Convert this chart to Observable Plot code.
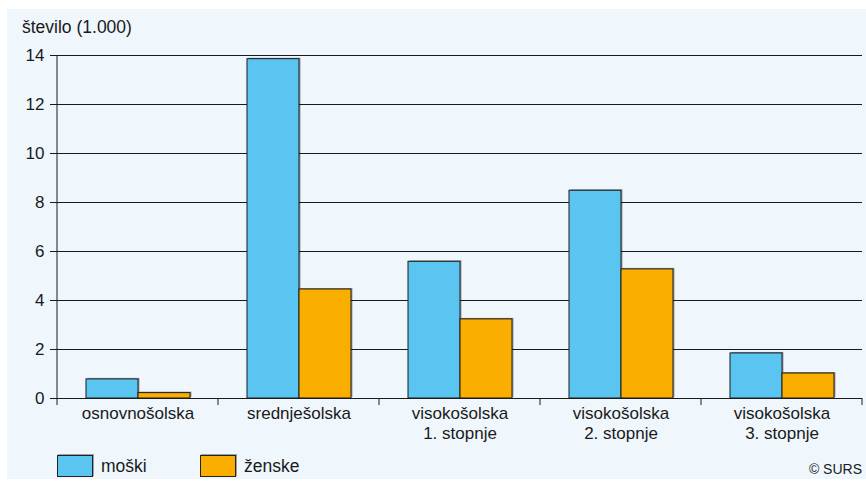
<!DOCTYPE html>
<html>
<head>
<meta charset="utf-8">
<script src="https://cdn.jsdelivr.net/npm/d3@7"></script>
<script src="https://cdn.jsdelivr.net/npm/@observablehq/plot@0.6"></script>
<style>
  html, body { margin: 0; padding: 0; background: #ffffff; }
  body { width: 866px; height: 486px; position: relative; overflow: hidden;
         font-family: "Liberation Sans", Arial, sans-serif; color: #1a1a1a; }
  #bg { position: absolute; left: 7px; top: 9px; right: 0; bottom: 7px; background: #EFF7FD; }
  #chart { position: absolute; left: 0; top: 0; }
  #title { position: absolute; left: 22px; top: 17px; font-size: 17.5px; }
  #legend { position: absolute; left: 57px; top: 455px; display: flex; align-items: center; font-size: 17.5px; }
  .item { display: flex; align-items: center; margin-right: 0; }
  .sw { width: 34px; height: 20px; border: 1px solid #222; box-shadow: 1px -1px 0 rgba(0,0,0,0.35); margin-right: 8px; }
  #credit { position: absolute; right: 4px; top: 461px; font-size: 14px; }
</style>
</head>
<body>
<div id="bg"></div>
<div id="chart"></div>
<div id="title">število (1.000)</div>
<div id="legend"></div>
<div id="credit">© SURS</div>
<script>
const categories = ["osnovnošolska", "srednješolska", "visokošolska\n1. stopnje", "visokošolska\n2. stopnje", "visokošolska\n3. stopnje"];
const series = ["moški", "ženske"];
const moski = [0.78, 13.85, 5.58, 8.48, 1.84];
const zenske = [0.22, 4.45, 3.23, 5.27, 1.02];
const yTicks = [0, 2, 4, 6, 8, 10, 12, 14];
const colors = ["#5BC5F2", "#F9AE00"];

const data = [];
categories.forEach((c, i) => {
  data.push({cat: c, sex: series[0], v: moski[i]});
  data.push({cat: c, sex: series[1], v: zenske[i]});
});

const chart = Plot.plot({
  width: 866,
  height: 444,
  marginLeft: 57,
  marginRight: 4,
  marginTop: 55,
  marginBottom: 46,
  style: {background: "transparent", fontFamily: "Liberation Sans, Arial, sans-serif", fontSize: "17px", color: "#1a1a1a"},
  fx: {domain: categories, padding: 0, label: null, axis: "bottom", tickSize: 0, tickPadding: 8},
  x: {domain: series, paddingInner: 0, paddingOuter: 0.548, axis: null},
  y: {domain: [0, 14], ticks: yTicks, label: null, tickSize: 7, tickPadding: 6},
  color: {domain: series, range: colors},
  marks: [
    Plot.ruleY(yTicks.filter(t => t > 0), {stroke: "#1a1a1a", strokeWidth: 1}),
    Plot.barY(data, {fx: "cat", x: "sex", y: "v", fill: "#000", fillOpacity: 0.35, dx: 1.5, dy: -1}),
    Plot.barY(data, {fx: "cat", x: "sex", y: "v", fill: "sex", stroke: "#1a1a1a", strokeWidth: 1}),
    Plot.ruleY([0], {stroke: "#1a1a1a", strokeWidth: 1})
  ]
});
document.getElementById("chart").appendChild(chart);
d3.select(chart).selectAll("[aria-label='fx-axis tick label'] text, g[aria-label='fx-axis tick label'] text")
  .style("line-height", "1.2");

// axis line and category boundary ticks, placed with the chart's own scales
const fx = chart.scale("fx");
const y = chart.scale("y");
const svg = d3.select(chart);
const bw = fx.bandwidth;
const x0 = fx.apply(categories[0]);
svg.append("line")
  .attr("x1", x0).attr("x2", x0)
  .attr("y1", y.apply(14)).attr("y2", y.apply(0) + 7)
  .attr("stroke", "#1a1a1a");
categories.forEach((c, i) => {
  const xr = fx.apply(c) + bw;
  svg.append("line")
    .attr("x1", xr).attr("x2", xr)
    .attr("y1", y.apply(0)).attr("y2", y.apply(0) + 7)
    .attr("stroke", "#1a1a1a");
});
// second lines of category labels: a little more leading, as in the reference
svg.selectAll("text tspan").each(function () {
  const t = d3.select(this);
  if (t.attr("dy") === "1em") t.attr("dy", "1.2em");
});

const legend = document.getElementById("legend");
series.forEach((s, i) => {
  const it = document.createElement("div");
  it.className = "item";
  it.style.width = i === 0 ? "143px" : "auto";
  const sw = document.createElement("div");
  sw.className = "sw";
  sw.style.background = colors[i];
  const t = document.createElement("span");
  t.textContent = s;
  it.appendChild(sw); it.appendChild(t);
  legend.appendChild(it);
});
</script>
</body>
</html>
